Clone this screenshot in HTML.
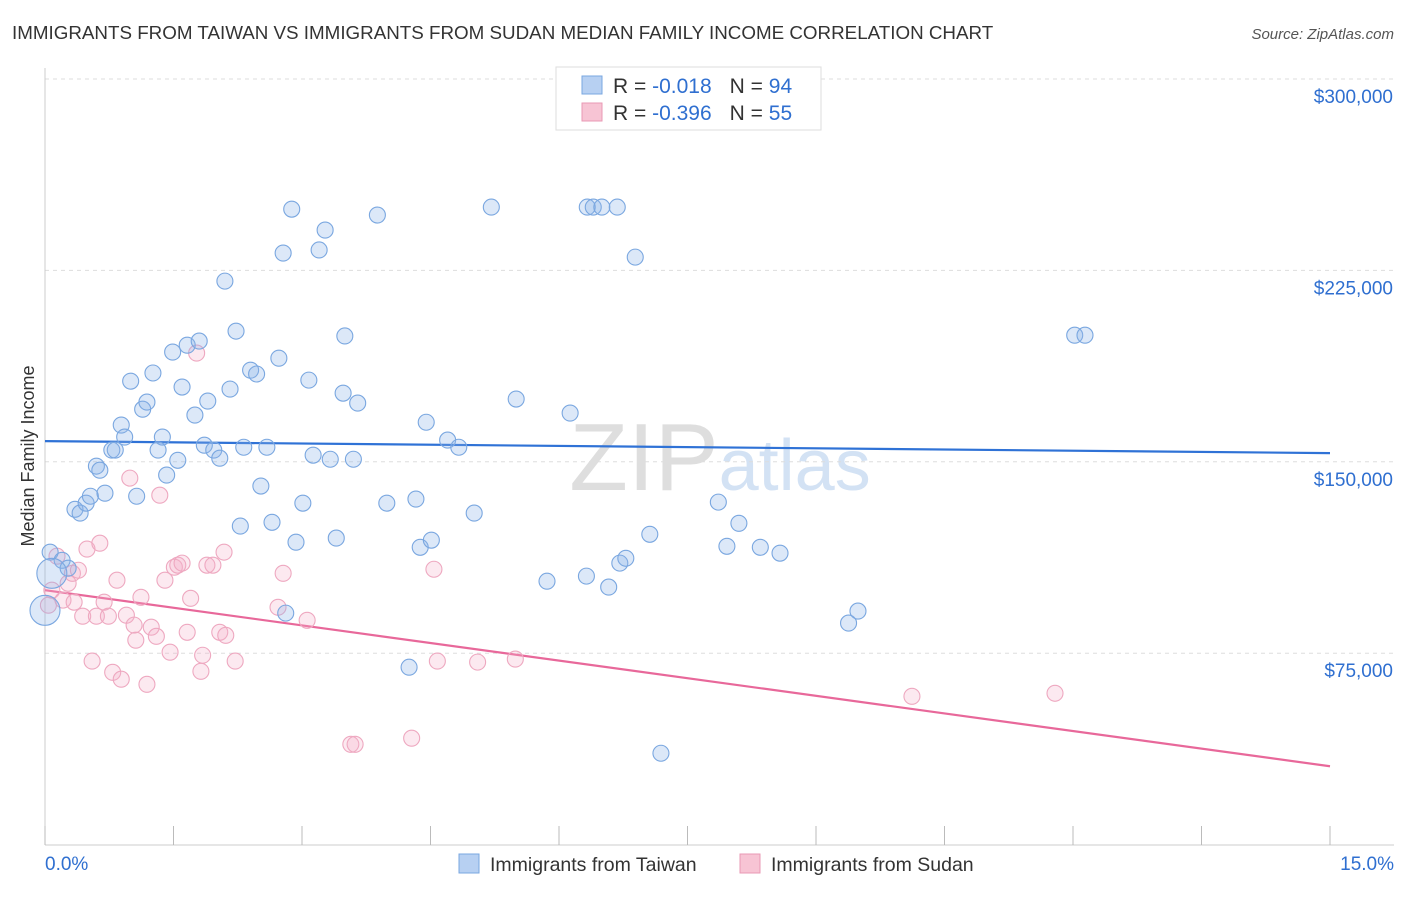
<!DOCTYPE html>
<html><head><meta charset="utf-8"><style>
body{margin:0;background:#fff;font-family:"Liberation Sans",sans-serif;}
svg text{font-family:"Liberation Sans",sans-serif;}
</style></head><body>
<svg width="1406" height="892" viewBox="0 0 1406 892" xmlns="http://www.w3.org/2000/svg" id="chart">
<text x="12" y="39" font-size="18.8" fill="#333">IMMIGRANTS FROM TAIWAN VS IMMIGRANTS FROM SUDAN MEDIAN FAMILY INCOME CORRELATION CHART</text>
<text x="1394" y="39" font-size="15" fill="#555" text-anchor="end" font-style="italic">Source: ZipAtlas.com</text>
<text x="720" y="490" font-size="96" fill="#ddd" text-anchor="middle" font-family="Liberation Serif"><tspan fill="#dedede">ZIP</tspan><tspan fill="#d3e2f4" font-family="Liberation Sans" font-size="72">atlas</tspan></text>
<g id="grid"></g>
<g id="axes"></g>
<g id="lines"></g>
<g id="points"></g>
<text transform="translate(34,456) rotate(-90)" font-size="18" fill="#333" text-anchor="middle">Median Family Income</text>
<g>
<rect x="556" y="67" width="265" height="63" fill="#fff" stroke="#ddd"/>
<rect x="582" y="76" width="20" height="18" fill="#b7d0f2" stroke="#7aa7e0"/>
<text x="613" y="93" font-size="21" fill="#333">R = <tspan fill="#2f6fd0">-0.018</tspan><tspan dx="18">N = </tspan><tspan fill="#2f6fd0">94</tspan></text>
<rect x="582" y="103" width="20" height="18" fill="#f7c4d4" stroke="#e999b4"/>
<text x="613" y="120" font-size="21" fill="#333">R = <tspan fill="#2f6fd0">-0.396</tspan><tspan dx="18">N = </tspan><tspan fill="#2f6fd0">55</tspan></text>
</g>
<g>
<rect x="459" y="854" width="20" height="19" fill="#b7d0f2" stroke="#7aa7e0"/>
<text x="490" y="871" font-size="19.5" fill="#333">Immigrants from Taiwan</text>
<rect x="740" y="854" width="20" height="19" fill="#f7c4d4" stroke="#e999b4"/>
<text x="771" y="871" font-size="19.5" fill="#333">Immigrants from Sudan</text>
</g>
</svg>
<script>
const yTicks=[75000,150000,225000,300000];
const yTickLabels=["$75,000","$150,000","$225,000","$300,000"];
const xTickLabels=["0.0%","15.0%"];
const taiwanX=[0.06,0.20,0.27,0.35,0.41,0.48,0.53,0.60,0.64,0.70,0.78,0.82,0.89,0.93,1.00,1.07,1.14,1.19,1.26,1.32,1.37,1.42,1.49,1.55,1.60,1.66,1.75,1.80,1.86,1.90,1.97,2.04,2.10,2.16,2.23,2.28,2.32,2.40,2.47,2.52,2.59,2.65,2.73,2.78,2.81,2.88,2.93,3.01,3.08,3.13,3.20,3.27,3.33,3.40,3.48,3.50,3.60,3.65,3.88,3.99,4.25,4.33,4.38,4.45,4.51,4.70,4.83,5.01,5.21,5.50,5.86,6.13,6.32,6.33,6.40,6.50,6.58,6.68,6.71,6.78,6.89,7.06,7.19,7.86,7.96,8.10,8.35,8.58,9.38,9.49,12.02,12.14,0.0,0.08];
const taiwanY=[114.6,111.4,108.3,131.4,129.9,133.8,136.5,148.3,146.7,137.7,154.6,154.6,164.4,159.7,181.6,136.5,170.6,173.4,184.8,154.6,159.7,144.8,193.0,150.6,179.3,195.7,168.3,197.3,156.5,173.8,154.6,151.4,220.8,178.5,201.2,124.8,155.7,185.9,184.4,140.5,155.7,126.3,190.6,231.8,90.7,249.0,118.5,133.8,182.0,152.6,233.0,240.8,151.0,120.1,176.9,199.3,151.0,173.0,246.7,133.8,69.5,135.4,116.5,165.5,119.3,158.5,155.7,129.9,249.8,174.6,103.2,169.1,105.2,249.8,249.8,249.8,100.9,249.8,110.3,112.2,230.2,121.6,35.8,134.2,116.9,125.9,116.5,114.2,86.8,91.5,199.6,199.6,91.8,106.3];
const sudanX=[0.04,0.08,0.14,0.21,0.27,0.32,0.34,0.39,0.44,0.49,0.55,0.60,0.64,0.69,0.74,0.79,0.84,0.89,0.95,0.99,1.04,1.06,1.12,1.19,1.24,1.30,1.34,1.40,1.46,1.51,1.55,1.60,1.66,1.70,1.77,1.82,1.84,1.89,1.96,2.04,2.09,2.11,2.22,2.72,2.78,3.06,3.57,3.62,4.28,4.54,4.58,5.05,5.49,10.12,11.79];
const sudanY=[93.8,99.7,113.0,95.8,102.4,106.3,95.0,107.5,89.5,115.8,71.9,89.5,118.1,95.0,89.5,67.5,103.6,64.8,89.9,143.6,86.0,80.1,96.9,62.8,85.2,81.6,136.9,103.6,75.4,108.7,109.5,110.3,83.2,96.5,192.6,67.9,74.2,109.5,109.5,83.2,114.6,82.0,71.9,93.0,106.3,87.9,39.3,39.3,41.7,107.9,71.9,71.5,72.7,58.1,59.3];
const taiwanTrend=[158.1,153.4];
const sudanTrend=[99.7,30.7];
const NS="http://www.w3.org/2000/svg";
const X0=45,X1=1330,XMAX=15,YB=844.6,YT=79;
function sx(v){return X0+v/XMAX*(X1-X0);}
function sy(k){return YB-(k*1000)/300000*(YB-YT);}
function mk(t,a,p){const e=document.createElementNS(NS,t);for(const k in a)e.setAttribute(k,a[k]);p.appendChild(e);return e;}
const grid=document.getElementById('grid'),axes=document.getElementById('axes'),lines=document.getElementById('lines'),pts=document.getElementById('points');
yTicks.forEach((t,i)=>{const y=sy(t/1000);
const g=mk('line',{x1:45,x2:1394,y1:y,y2:y,stroke:'#ddd','stroke-dasharray':'4,4'},grid);


const l=mk('text',{x:1393,y:y+24,'font-size':19,fill:'#2f6fd0','text-anchor':'end'},axes);l.textContent=yTickLabels[i];

});
const ax=mk('line',{x1:45,x2:1394,y1:845,y2:845,stroke:'#ccc'},axes);


const ay=mk('line',{x1:45,x2:45,y1:68,y2:845,stroke:'#ccc'},axes);


for(let i=0;i<=10;i++){const x=sx(i*1.5);const t=mk('line',{x1:x,x2:x,y1:826,y2:845,stroke:'#bbb'},axes);

}
const xl0=mk('text',{x:45,y:870,'font-size':19,fill:'#2f6fd0'},axes);xl0.textContent=xTickLabels[0];


const xl1=mk('text',{x:1394,y:870,'font-size':19,fill:'#2f6fd0','text-anchor':'end'},axes);xl1.textContent=xTickLabels[1];


function pointsOf(X,Y,fill,stroke,name){X.forEach((v,i)=>{const big=(v<=0.1&&name==='taiwan-point'&&i>=X.length-2);
const c=mk('circle',{cx:sx(v),cy:sy(Y[i]),r:big?15:8,fill:fill,stroke:stroke,'stroke-width':1.1},pts);

});}
pointsOf(sudanX,sudanY,'rgba(244,175,200,0.28)','#eea8c0','sudan-point');
pointsOf(taiwanX,taiwanY,'rgba(140,178,232,0.3)','#7aa7e0','taiwan-point');
const tl=mk('line',{x1:sx(0),y1:sy(taiwanTrend[0]),x2:sx(15),y2:sy(taiwanTrend[1]),stroke:'#2f72d6','stroke-width':2.2},lines);


const sl=mk('line',{x1:sx(0),y1:sy(sudanTrend[0]),x2:sx(15),y2:sy(sudanTrend[1]),stroke:'#e8689a','stroke-width':2.2},lines);


</script>
</body></html>
